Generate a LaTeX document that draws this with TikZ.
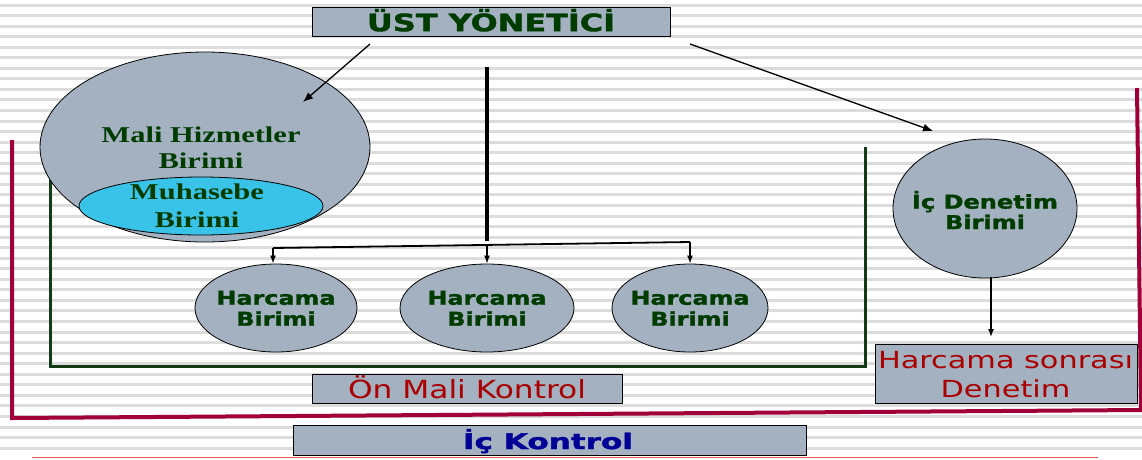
\documentclass[tikz,border=0pt]{standalone}
\usepackage{fontspec}
\usepackage{graphicx}
\setsansfont{DejaVu Sans}[BoldFeatures={FakeBold=1.5}]
\newfontfamily\tnr{Liberation Serif}
\usetikzlibrary{shapes.geometric,arrows.meta}
\definecolor{slate}{RGB}{163,177,193}
\definecolor{cyanfill}{RGB}{57,195,232}
\definecolor{dkgreen}{RGB}{0,60,0}
\definecolor{brgreen}{RGB}{20,60,20}
\definecolor{crimson}{RGB}{160,0,55}
\definecolor{dkred}{RGB}{170,0,0}
\definecolor{dkblue}{RGB}{0,0,150}
\definecolor{stripe}{RGB}{220,220,220}
\definecolor{thinred}{RGB}{225,90,90}
\newcommand\fitw[2]{\resizebox{#1}{\height}{\begin{tabular}{@{}c@{}}#2\end{tabular}}}
\tikzset{
  sbox/.style={draw=black,line width=0.8pt,fill=slate,inner sep=0pt,rectangle},
  ell/.style={draw=black,line width=0.8pt,fill=slate,ellipse,inner sep=0pt},
  txt/.style={inner sep=0pt,outer sep=0pt},
  arr/.style={line width=1.3pt,-{Latex[length=10pt,width=8pt]}},
  sarr/.style={line width=1.3pt,-{Latex[length=8pt,width=6pt]}},
}
\begin{document}
\begin{tikzpicture}[x=1pt,y=-1pt]
\useasboundingbox (0,0) rectangle (1142,459);
\fill[white] (0,0) rectangle (1142,459);
\foreach \i in {0,...,42} \fill[stripe] (0,{3.5+\i*10.55}) rectangle (1142,{6.5+\i*10.55});
% thin bottom red line
\draw[thinred,line width=1pt] (32,457) -- (1098,457);
% crimson frame
\coordinate (cTL) at (12,140);
\coordinate (cBL) at (12,418);
\coordinate (cBR) at (1141,410);
\coordinate (cTR) at (1137,88);
\draw[crimson,line width=4pt,line join=miter] (cTL) -- (cBL) -- (cBR) -- (cTR);
% green bracket
\coordinate (gTL) at (50,176);
\coordinate (gBL) at (50,366);
\coordinate (gBR) at (865,366);
\coordinate (gTR) at (865,147);
\draw[brgreen,line width=3pt] (gTL) -- (gBL) -- (gBR) -- (gTR);
% boxes
\node[sbox,minimum width=358pt,minimum height=29pt] (ust) at (491,21.5) {};
\node[txt,anchor=base,text=dkgreen] (ustT) at (491,30.5) {\fontsize{24}{28}\selectfont\sffamily\bfseries\fitw{248pt}{ÜST YÖNETİCİ}};
\node[sbox,minimum width=310pt,minimum height=29pt] (onm) at (467.5,388.5) {};
\node[txt,anchor=base,text=dkred] (onmT) at (467,398) {\fontsize{25}{29}\selectfont\sffamily\fitw{238pt}{Ön Mali Kontrol}};
\node[sbox,minimum width=262pt,minimum height=59pt] (hsd) at (1006,373.5) {};
\node[txt,text=dkred] (hsdT) at (1005.5,376.7) {\fontsize{23.5}{29}\selectfont\sffamily\fitw{255pt}{Harcama sonrası\\Denetim}};
\node[sbox,minimum width=513pt,minimum height=30pt] (ick) at (549.5,440) {};
\node[txt,anchor=base,text=dkblue] (ickT) at (548,448) {\fontsize{21.5}{25}\selectfont\sffamily\bfseries\fitw{170pt}{İç Kontrol}};
% ellipses
\node[ell,minimum width=330pt,minimum height=190pt] (mali) at (205,147) {};
\node[txt,text=dkgreen] (maliT) at (201,149.8) {\fontsize{22.6}{26}\selectfont\tnr\bfseries\fitw{199pt}{Mali Hizmetler\\Birimi}};
\node[ell,fill=cyanfill,minimum width=244pt,minimum height=58pt] (muh) at (201,206) {};
\node[txt,text=dkgreen] (muhT) at (197,207.4) {\fontsize{22.6}{28}\selectfont\tnr\bfseries\fitw{134pt}{Muhasebe\\Birimi}};
\node[ell,minimum width=162pt,minimum height=88pt] (h1) at (276,308) {};
\node[ell,minimum width=174pt,minimum height=88pt] (h2) at (487,308) {};
\node[ell,minimum width=156pt,minimum height=88pt] (h3) at (690,308) {};
\node[txt,text=dkgreen] (h1T) at (276,311) {\fontsize{19}{21}\selectfont\sffamily\bfseries\fitw{119pt}{Harcama\\Birimi}};
\node[txt,text=dkgreen] (h2T) at (487,311) {\fontsize{19}{21}\selectfont\sffamily\bfseries\fitw{119pt}{Harcama\\Birimi}};
\node[txt,text=dkgreen] (h3T) at (690,311) {\fontsize{19}{21}\selectfont\sffamily\bfseries\fitw{119pt}{Harcama\\Birimi}};
\node[ell,minimum width=184pt,minimum height=139pt] (icd) at (985,208.5) {};
\node[txt,text=dkgreen] (icdT) at (985,213) {\fontsize{19}{20}\selectfont\sffamily\bfseries\fitw{146pt}{İç Denetim\\Birimi}};
% connectors
\coordinate (a1s) at (370,44);
\coordinate (a1e) at (303,102);
\draw[arr] (a1s) -- (a1e);
\coordinate (a2s) at (690,44);
\coordinate (a2e) at (933,131);
\draw[arr] (a2s) -- (a2e);
\coordinate (vt) at (487,67);
\coordinate (vb) at (487,241);
\draw[line width=4pt] (vt) -- (vb);
\coordinate (dl) at (273,248);
\coordinate (dm) at (487,245);
\coordinate (dr) at (690,242);
\draw[line width=1.8pt] (dl) -- (dr);
\draw[sarr] (dl) -- (dl |- h1.north);
\draw[sarr] (dm) -- (dm |- h2.north);
\draw[sarr] (dr) -- (dr |- h3.north);
\coordinate (idb) at (991,277);
\draw[sarr] (idb) -- (991,337);
\end{tikzpicture}
\end{document}
